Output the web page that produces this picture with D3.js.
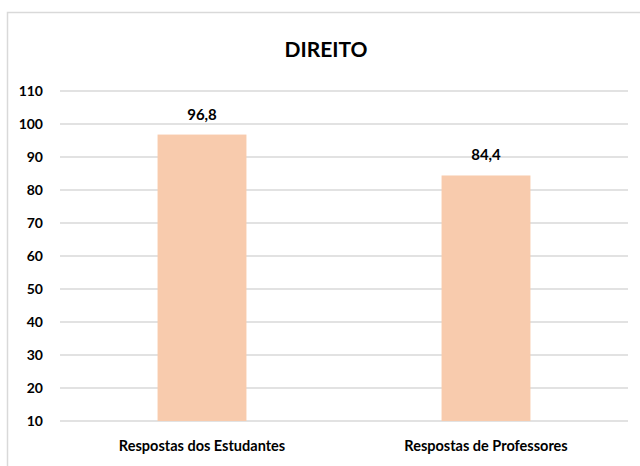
<!DOCTYPE html>
<html>
<head>
<meta charset="utf-8">
<script src="https://cdn.jsdelivr.net/npm/d3@7"></script>
<style>
	body { margin: 0; background: #fff; }
	svg text { font-family: Lato, "Liberation Sans", Arial, sans-serif; font-weight: bold; fill: #000; }
	.grid line { stroke: #d9d9d9; stroke-width: 1.5; }
	.bar { fill: #f8cbad; }
</style>
</head>
<body>
<svg id="chart" width="640" height="466"></svg>
<script>
// chart data
var chartTitle = "DIREITO";
var categories = ["Respostas dos Estudantes", "Respostas de Professores"];
var values = [96.8, 84.4];
var valueLabels = ["96,8", "84,4"];
var yTicks = [10, 20, 30, 40, 50, 60, 70, 80, 90, 100, 110];

var margin = {top: 91, right: 12, bottom: 45, left: 60},
	width = 628 - margin.left,
	height = 421 - margin.top;

var svg = d3.select("#chart");

// outer border of chart area
svg.append("rect")
	.attr("x", 7.5)
	.attr("y", 12.5)
	.attr("width", 660)
	.attr("height", 480)
	.attr("fill", "none")
	.attr("stroke", "#d9d9d9")
	.attr("stroke-width", 1.5);

var chart = svg.append("g")
	.attr("transform", "translate(" + margin.left + "," + margin.top + ")");

var x = d3.scaleBand()
	.domain(categories)
	.range([0, width])
	.paddingInner(0.687)
	.paddingOuter(0.3435);

var y = d3.scaleLinear()
	.domain([10, 110])
	.range([height, 0]);

// gridlines
chart.append("g")
	.attr("class", "grid")
	.selectAll("line")
	.data(yTicks)
  .enter().append("line")
	.attr("x1", 0)
	.attr("x2", width)
	.attr("y1", function(d) { return y(d); })
	.attr("y2", function(d) { return y(d); });

// y axis labels
var yAxis = d3.axisLeft(y)
	.tickValues(yTicks)
	.tickSize(0)
	.tickPadding(17);
chart.append("g")
	.attr("class", "y axis")
	.call(yAxis)
	.call(function(g) { g.select(".domain").remove(); })
	.selectAll("text")
	.style("font-size", "14px")
	.attr("dy", "0.35em");

// bars
chart.selectAll(".bar")
	.data(values)
  .enter().append("rect")
	.attr("class", "bar")
	.attr("x", function(d, i) { return x(categories[i]); })
	.attr("width", x.bandwidth())
	.attr("y", function(d) { return y(d); })
	.attr("height", function(d) { return height - y(d); });

// value labels
chart.selectAll(".vlabel")
	.data(values)
  .enter().append("text")
	.attr("class", "vlabel")
	.attr("x", function(d, i) { return x(categories[i]) + x.bandwidth() / 2; })
	.attr("y", function(d) { return y(d) - 15; })
	.attr("text-anchor", "middle")
	.style("font-size", "15px")
	.text(function(d, i) { return valueLabels[i]; });

// x axis labels
var xAxis = d3.axisBottom(x)
	.tickSize(0)
	.tickPadding(20);
chart.append("g")
	.attr("class", "x axis")
	.attr("transform", "translate(0," + height + ")")
	.call(xAxis)
	.call(function(g) { g.select(".domain").remove(); })
	.selectAll("text")
	.style("font-size", "14.5px");

// title
svg.append("text")
	.attr("x", 326)
	.attr("y", 57)
	.attr("text-anchor", "middle")
	.style("font-size", "21px")
	.text(chartTitle);
</script>
</body>
</html>
